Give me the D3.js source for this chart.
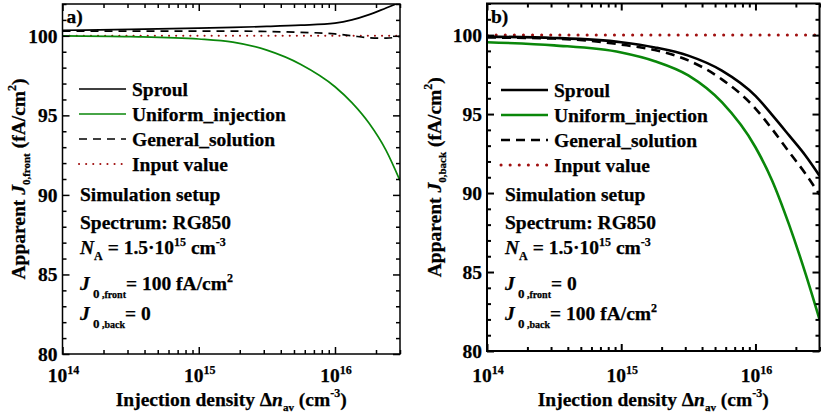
<!DOCTYPE html>
<meta charset="utf-8">
<script src="https://d3js.org/d3.v7.min.js"></script>
<style>
  body { margin: 0; background: #fff; }
</style>
<div id="chart"></div>
<script>
// ---- data ----
const seriesNames = ["Sproul", "Uniform_injection", "General_solution", "Input value"];

// injection densities where the curves were read (log-spaced)
const xs = [1e14, 3.16e14, 1e15, 1.78e15, 3.16e15, 5.62e15, 1e16, 1.33e16, 1.78e16, 2.37e16, 3e16];

// panel a) J0,front = 100
const sproulA  = [100.35, 100.4, 100.48, 100.53, 100.59, 100.67, 100.8, 101.0, 101.33, 101.75, 102.1];
const uniformA = [100.0, 99.95, 99.8, 99.6, 99.1, 98.2, 96.8, 95.8, 94.5, 92.8, 90.9];
const generalA = [100.3, 100.3, 100.3, 100.3, 100.27, 100.22, 100.12, 100.0, 99.88, 99.85, 99.97];
const inputA   = [100, 100, 100, 100, 100, 100, 100, 100, 100, 100, 100];

// panel b) J0,back = 100
const sproulB  = [99.9, 99.82, 99.55, 99.22, 98.7, 97.75, 96.15, 94.95, 93.65, 92.35, 91.1];
const uniformB = [99.55, 99.35, 98.9, 98.35, 97.45, 95.75, 92.9, 90.8, 88.0, 84.85, 82.0];
const generalB = [99.85, 99.78, 99.4, 99.05, 98.4, 97.2, 95.35, 94.05, 92.6, 91.2, 89.9];
const inputB   = [100, 100, 100, 100, 100, 100, 100, 100, 100, 100, 100];

const xMajor = [1e14, 1e15, 1e16];
const xExp = ["14", "15", "16"];
const xMinor = [2e14, 3e14, 4e14, 5e14, 6e14, 7e14, 8e14, 9e14,
                2e15, 3e15, 4e15, 5e15, 6e15, 7e15, 8e15, 9e15, 2e16, 3e16];
const yMajor = [80, 85, 90, 95, 100];
const yMinor = d3.range(81, 103).filter(v => v % 5 !== 0);

const setupA = ["Simulation setup", "Spectrum: RG850", "NA", "J0,front = 100 fA/cm2", "J0,back = 0"];
const setupB = ["Simulation setup", "Spectrum: RG850", "NA", "J0,front = 0", "J0,back = 100 fA/cm2"];

const width = 821, height = 419;
const green = "#0a870a", red = "#a01010";
const FS = 19.5;
const FONT = '"Liberation Serif", "Times New Roman", serif';

const svg = d3.select("#chart").append("svg")
    .attr("width", width)
    .attr("height", height)
    .attr("viewBox", [0, 0, width, height]);

function panel(o) {
    const x = d3.scaleLog().domain([1e14, 3e16]).range([o.left, o.right]);
    const y = d3.scaleLinear().domain([80, 102]).range([o.bottom, o.top]);
    const g = svg.append("g");

    g.append("clipPath").attr("id", "clip" + o.id)
      .append("rect").attr("x", o.left).attr("y", o.top)
      .attr("width", o.right - o.left).attr("height", o.bottom - o.top);

    // curves
    const line = d3.line().curve(d3.curveMonotoneX).x(d => x(d[0])).y(d => y(d[1]));
    const styles = [
        { stroke: "#000", dash: null },
        { stroke: green, dash: null },
        { stroke: "#000", dash: o.dash },
        { stroke: red, dash: o.dot }
    ];
    const curves = g.append("g").attr("clip-path", `url(#clip${o.id})`).attr("fill", "none");
    [3, 1, 2, 0].forEach(i => {
        curves.append("path")
            .datum(xs.map((v, j) => [v, o.ys[i][j]]))
            .attr("stroke", styles[i].stroke)
            .attr("stroke-width", i === 3 ? o.dotW : o.lw)
            .attr("stroke-dasharray", styles[i].dash)
            .attr("stroke-linecap", i === 3 ? "round" : "butt")
            .attr("d", line);
    });

    // ticks on all four sides
    const fw = o.fw;
    const ax = (axis, tr) => g.append("g").attr("transform", tr)
        .call(axis.tickFormat(""))
        .call(s => s.select(".domain").remove())
        .call(s => s.selectAll("line").attr("stroke-width", fw));
    ax(d3.axisBottom(x).tickValues(xMajor).tickSize(-7), `translate(0,${o.bottom})`);
    ax(d3.axisBottom(x).tickValues(xMinor).tickSize(-4), `translate(0,${o.bottom})`);
    ax(d3.axisTop(x).tickValues(xMajor).tickSize(-7), `translate(0,${o.top})`);
    ax(d3.axisTop(x).tickValues(xMinor).tickSize(-4), `translate(0,${o.top})`);
    ax(d3.axisLeft(y).tickValues(yMajor).tickSize(-7), `translate(${o.left},0)`);
    ax(d3.axisLeft(y).tickValues(yMinor).tickSize(-4), `translate(${o.left},0)`);
    ax(d3.axisRight(y).tickValues(yMajor).tickSize(-7), `translate(${o.right},0)`);
    ax(d3.axisRight(y).tickValues(yMinor).tickSize(-4), `translate(${o.right},0)`);

    g.append("rect")
        .attr("x", o.left).attr("y", o.top)
        .attr("width", o.right - o.left).attr("height", o.bottom - o.top)
        .attr("fill", "none").attr("stroke", "#000").attr("stroke-width", fw);

    // tick labels
    g.append("g").selectAll("text").data(yMajor).join("text")
        .attr("x", o.left - 5).attr("y", d => y(d)).attr("dy", "0.36em")
        .attr("text-anchor", "end").attr("font-size", FS)
        .text(d => d);
    const xl = g.append("g").selectAll("text").data(xMajor).join("text")
        .attr("x", d => x(d) + 1).attr("y", 382)
        .attr("text-anchor", "middle").attr("font-size", FS);
    xl.append("tspan").text("10");
    xl.append("tspan").attr("font-size", 12).attr("dy", -8).text((d, i) => xExp[i]);

    // axis titles
    const cx = (o.left + o.right) / 2;
    const xt = g.append("text").attr("x", cx).attr("y", 406)
        .attr("text-anchor", "middle").attr("font-size", FS);
    xt.append("tspan").text("Injection density Δ");
    xt.append("tspan").attr("font-style", "italic").text("n");
    xt.append("tspan").attr("font-size", 11).attr("dy", 5).text("av");
    xt.append("tspan").attr("dy", -5).text(" (cm");
    xt.append("tspan").attr("font-size", 12).attr("dy", -9).text("-3");
    xt.append("tspan").attr("dy", 9).text(")");

    const cy = (o.top + o.bottom) / 2;
    const yt = g.append("text")
        .attr("transform", `translate(${o.ytx},${cy}) rotate(-90)`)
        .attr("text-anchor", "middle").attr("font-size", FS);
    yt.append("tspan").text("Apparent ");
    yt.append("tspan").attr("font-style", "italic").text("J");
    yt.append("tspan").attr("font-size", 11).attr("dy", 5).text("0," + o.side);
    yt.append("tspan").attr("dy", -5).text(" (fA/cm");
    yt.append("tspan").attr("font-size", 12).attr("dy", -9).text("2");
    yt.append("tspan").attr("dy", 9).text(")");

    // panel letter
    g.append("text").attr("x", o.left + 4).attr("y", o.top + 19)
        .attr("font-size", FS).text(o.id + ")");

    // legend
    const lg = g.append("g");
    seriesNames.forEach((name, i) => {
        const ly = o.legY + i * 25;
        lg.append("line")
            .attr("x1", o.legX).attr("x2", o.legX + 47).attr("y1", ly).attr("y2", ly)
            .attr("stroke", styles[i].stroke)
            .attr("stroke-width", i === 3 ? o.dotW : o.lw)
            .attr("stroke-dasharray", styles[i].dash)
            .attr("stroke-linecap", i === 3 ? "round" : "butt");
        lg.append("text").attr("x", o.legX + 53).attr("y", ly).attr("dy", "0.35em")
            .attr("font-size", FS).text(name);
    });

    // simulation setup text
    const sx = o.setX;
    const base = [201, 229, 254, 290, 320];
    const st = g.append("g");
    st.append("text").attr("x", sx).attr("y", base[0]).attr("font-size", FS).text(o.setup[0]);
    st.append("text").attr("x", sx).attr("y", base[1]).attr("font-size", FS).text(o.setup[1]);
    const na = st.append("text").attr("x", sx).attr("y", base[2]).attr("font-size", FS);
    na.append("tspan").attr("font-style", "italic").text("N");
    na.append("tspan").attr("font-size", 12).attr("dy", 6).text("A");
    na.append("tspan").attr("dy", -6).text(" = 1.5·10");
    na.append("tspan").attr("font-size", 12).attr("dy", -8).text("15");
    na.append("tspan").attr("dy", 8).text(" cm");
    na.append("tspan").attr("font-size", 12).attr("dy", -8).text("-3");

    [3, 4].forEach(k => {
        const parts = o.setup[k].split(" = ");
        const side = parts[0].split(",")[1];
        const t = st.append("text").attr("x", sx).attr("y", base[k]).attr("font-size", FS);
        t.append("tspan").attr("font-style", "italic").text("J");
        t.append("tspan").attr("font-size", 13).attr("dy", 8).text(" 0");
        t.append("tspan").attr("font-size", 10).text(" ," + side);
        const val = parts[1];
        if (val.endsWith("2")) {
            t.append("tspan").attr("dy", -8).text("= " + val.slice(0, -1));
            t.append("tspan").attr("font-size", 12).attr("dy", -8).text("2");
        } else {
            t.append("tspan").attr("dy", -8).text("= " + val);
        }
    });
}

panel({
    id: "a", side: "front", left: 62.5, right: 400, top: 4, bottom: 354,
    ys: [sproulA, uniformA, generalA, inputA],
    lw: 1.7, dotW: 2, fw: 1.5, dash: "8,6", dot: "0.1,7",
    ytx: 25, legX: 79, legY: 89, setX: 80, setup: setupA
});

panel({
    id: "b", side: "back", left: 487, right: 819.5, top: 3.5, bottom: 351,
    ys: [sproulB, uniformB, generalB, inputB],
    lw: 2.6, dotW: 3, fw: 2, dash: "9,6", dot: "0.1,9",
    ytx: 441, legX: 501, legY: 90, setX: 505, setup: setupB
});

// serif font, bold weight and a slight outline to match the heavy print
svg.selectAll("text")
    .attr("font-family", FONT)
    .attr("font-weight", "bold")
    .attr("fill", "#000")
    .attr("stroke", "#000")
    .attr("stroke-width", 0.25);
</script>
